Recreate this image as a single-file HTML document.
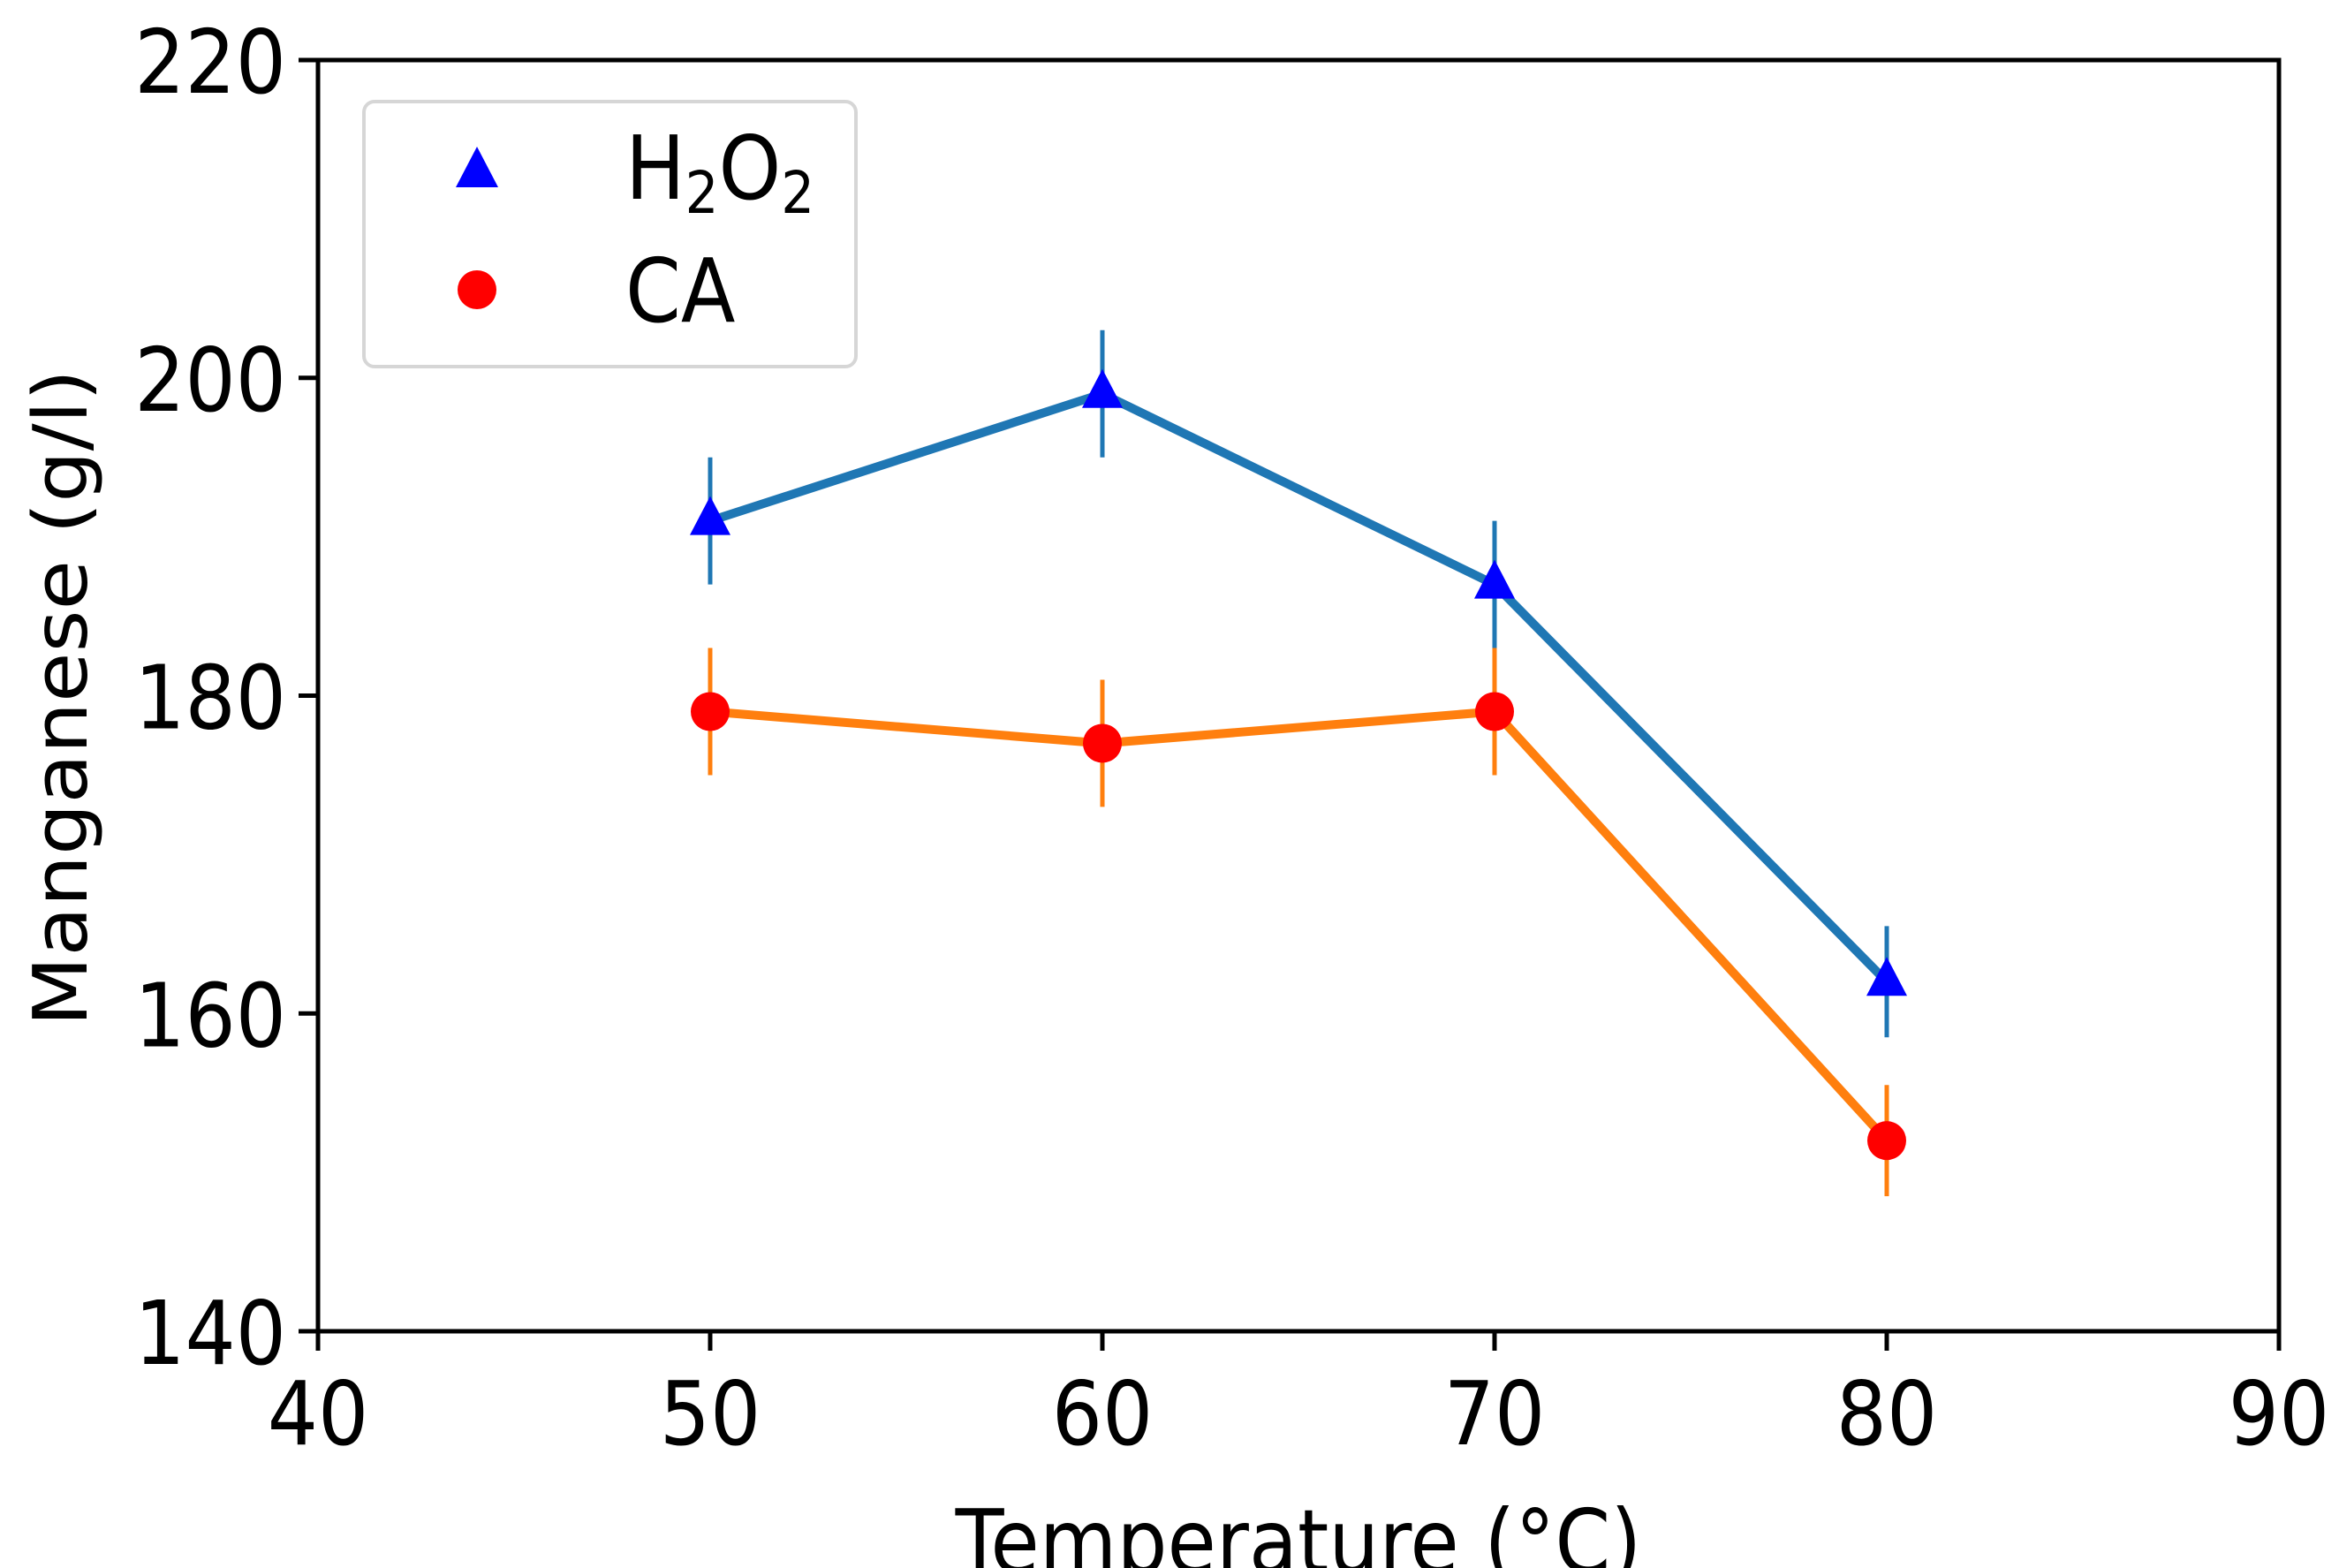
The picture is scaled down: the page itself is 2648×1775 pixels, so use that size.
<!DOCTYPE html>
<html><head><meta charset="utf-8"><style>
html,body{margin:0;padding:0;background:#fff;}
svg{display:block;font-family:"DejaVu Sans","Liberation Sans",sans-serif;}
</style></head><body>
<svg id="chart" width="2648" height="1775" viewBox="0 0 2648 1775">
<g id="plot"></g>
</svg>
<script>
const categories = [50, 60, 70, 80];
const h2o2Values = [191, 199, 187, 162];
const h2o2Errors = [4, 4, 4, 3.5];
const caValues = [179, 177, 179, 152];
const caErrors = [4, 4, 4, 3.5];
const xTicks = [40, 50, 60, 70, 80, 90];
const yTicks = [140, 160, 180, 200, 220];

const L=360,R=2580,T=68,B=1507;
const xs=v=>L+(v-40)/(90-40)*(R-L);
const ys=v=>B-(v-140)/(220-140)*(B-T);
const NS="http://www.w3.org/2000/svg";
const g=document.getElementById('plot');
function mk(tag,attrs,parent){const e=document.createElementNS(NS,tag);for(const k in attrs)e.setAttribute(k,attrs[k]);(parent||g).appendChild(e);return e;}
const SX=0.9;

let fr=mk('rect',{x:L,y:T,width:R-L,height:B-T,fill:'none',stroke:'#000','stroke-width':5});



xTicks.forEach(v=>{
  let t=mk('line',{x1:xs(v),x2:xs(v),y1:B,y2:B+22,stroke:'#000','stroke-width':5});
  
  
  let tx=mk('text',{transform:`translate(${xs(v)},${B+128}) scale(${SX},1)`,'text-anchor':'middle','font-size':100,fill:'#000'});
  tx.textContent=v;
  
  
});
yTicks.forEach(v=>{
  let t=mk('line',{x1:L-22,x2:L,y1:ys(v),y2:ys(v),stroke:'#000','stroke-width':5});
  
  
  let tx=mk('text',{transform:`translate(${L-36},${ys(v)+37}) scale(${SX},1)`,'text-anchor':'end','font-size':100,fill:'#000'});
  tx.textContent=v;
  
  
});

let xl=mk('text',{transform:`translate(1470,1780) scale(${SX},1)`,'text-anchor':'middle','font-size':100,fill:'#000'});
xl.textContent='Temperature (°C)';


let yl=mk('text',{x:0,y:0,'text-anchor':'middle','font-size':92,fill:'#000',transform:'translate(98,790) rotate(-90) scale(1,0.92)'});
yl.textContent='Manganese (g/l)';



function series(vals,errs,lineColor,markColor,marker,name){
  const pts=categories.map((c,i)=>xs(c)+','+ys(vals[i])).join(' ');
  let pl=mk('polyline',{points:pts,fill:'none',stroke:lineColor,'stroke-width':10,'stroke-linejoin':'round'});
  
  
  categories.forEach((c,i)=>{
    let e=mk('line',{x1:xs(c),x2:xs(c),y1:ys(vals[i]-errs[i]),y2:ys(vals[i]+errs[i]),stroke:lineColor,'stroke-width':5});
    
    
  });
  categories.forEach((c,i)=>{
    const x=xs(c),y=ys(vals[i]);let m;
    if(marker==='tri') m=mk('polygon',{points:`${x},${y-28} ${x-23},${y+16} ${x+23},${y+16}`,fill:markColor});
    else m=mk('circle',{cx:x,cy:y,r:22,fill:markColor});
    
    
  });
}
series(h2o2Values,h2o2Errors,'#1f77b4','#0000ff','tri','h2o2');
series(caValues,caErrors,'#ff7f0e','#ff0000','circ','ca');

let lg=mk('g',{});


let lb=mk('rect',{x:412,y:115,width:557,height:300,rx:12,fill:'#fff','fill-opacity':0.8,stroke:'#d6d6d6','stroke-width':4},lg);


let lt=mk('polygon',{points:'540,166 516,212 564,212',fill:'#0000ff'},lg);


let l1=mk('text',{transform:`translate(708,225) scale(${SX},1)`,'font-size':100,fill:'#000'},lg);
l1.innerHTML='H<tspan font-size="66" dy="16">2</tspan><tspan dy="-16">O</tspan><tspan font-size="66" dy="16">2</tspan>';


let lc=mk('circle',{cx:540,cy:328,r:22,fill:'#ff0000'},lg);


let l2=mk('text',{transform:`translate(708,364) scale(${SX},1)`,'font-size':100,fill:'#000'},lg);
l2.textContent='CA';


</script>
</body></html>
